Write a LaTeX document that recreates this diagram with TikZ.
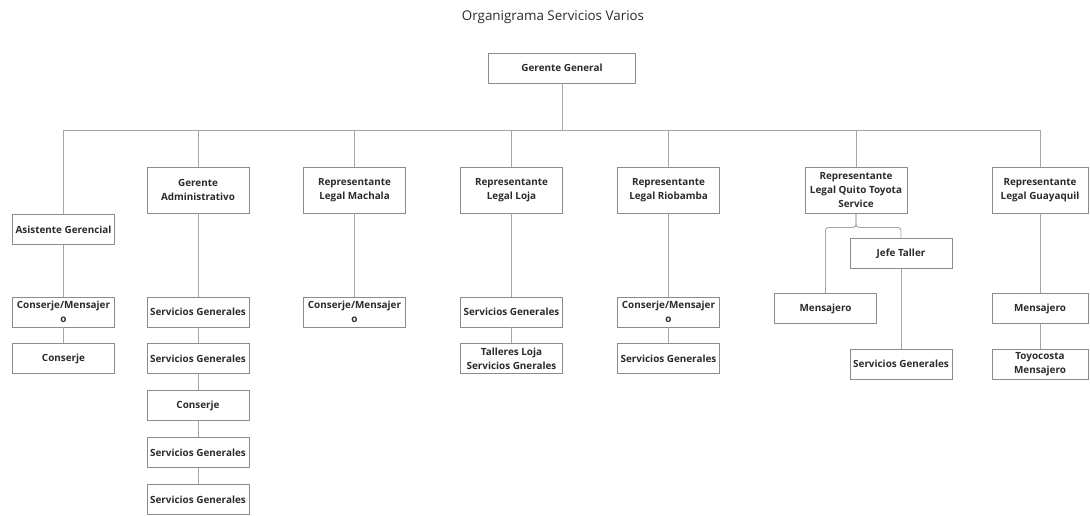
\documentclass[tikz,border=0pt]{standalone}
\usepackage{fontspec}
\setmainfont{Open Sans}
\usepackage{tikz}
\usetikzlibrary{positioning}

\definecolor{borde}{HTML}{8C8C8C}
\definecolor{linea}{HTML}{A6A6A6}
\definecolor{texto}{HTML}{2B2B2B}

\tikzset{
    puesto/.style={draw=borde, line width=0.9pt, fill=white, text=texto,
        minimum width=102pt, minimum height=30pt, inner sep=0pt, align=center,
        font=\bfseries\fontsize{9.9}{13.7}\selectfont},
    jefe/.style={puesto, minimum height=46pt},
    conector/.style={draw=linea, line width=0.9pt},
}

\begin{document}
\begin{tikzpicture}[x=1pt, y=-1pt]
    \useasboundingbox (0,0) rectangle (1090,516);
    \node[text=texto, font=\fontsize{13.4}{16}\selectfont] (titulo) at (553,17) {Organigrama Servicios Varios};

    \node[puesto, minimum width=147pt] (gg) at (562,68) {Gerente General};
    \coordinate (bus) at (562,130);

    % primer nivel
    \node[puesto] (ag) at (63.5,229.5) {Asistente Gerencial};
    \node[jefe] (ga) at (198,190) {Gerente\\Administrativo};
    \node[jefe] (rm) at (354.5,190) {Representante\\Legal Machala};
    \node[jefe] (rl) at (511.5,190) {Representante\\Legal Loja};
    \node[jefe] (rr) at (668.5,190) {Representante\\Legal Riobamba};
    \node[jefe] (rq) at (856,190) {Representante\\Legal Quito Toyota\\Service};
    \node[jefe, minimum width=96pt] (rg) at (1040,190) {Representante\\Legal Guayaquil};

    % segundo nivel
    \node[puesto] (ag1) at (63.5,312) {Conserje/Mensajer\\o};
    \node[puesto, below=16pt of ag1] (ag2) {Conserje};

    \node[puesto] (ga1) at (198,312) {Servicios Generales};
    \node[puesto, below=16pt of ga1] (ga2) {Servicios Generales};
    \node[puesto, below=16pt of ga2] (ga3) {Conserje};
    \node[puesto, below=16pt of ga3] (ga4) {Servicios Generales};
    \node[puesto, below=16pt of ga4] (ga5) {Servicios Generales};

    \node[puesto] (rm1) at (354.5,312) {Conserje/Mensajer\\o};

    \node[puesto] (rl1) at (511.5,312) {Servicios Generales};
    \node[puesto, below=16pt of rl1] (rl2) {Talleres Loja\\Servicios Gnerales};

    \node[puesto] (rr1) at (668.5,312) {Conserje/Mensajer\\o};
    \node[puesto, below=16pt of rr1] (rr2) {Servicios Generales};

    \node[puesto] (jt) at (901,253.5) {Jefe Taller};
    \node[puesto] (rq1) at (825.5,308.5) {Mensajero};
    \node[puesto] (jt1) at (901,364) {Servicios Generales};

    \node[puesto, minimum width=96pt] (rg1) at (1040,308.5) {Mensajero};
    \node[puesto, minimum width=96pt, below=25pt of rg1] (rg2) {Toyocosta\\Mensajero};

    % conectores
    \draw[conector] (gg) -- (bus);
    \foreach \n in {ag,ga,rm,rl,rr,rq,rg}
        \draw[conector] (bus) -| (\n.north);
    \foreach \a/\b in {ag/ag1, ag1/ag2, ga/ga1, ga1/ga2, ga2/ga3, ga3/ga4, ga4/ga5,
                       rm/rm1, rl/rl1, rl1/rl2, rr/rr1, rr1/rr2, jt/jt1, rg/rg1, rg1/rg2}
        \draw[conector] (\a) -- (\b);
    \draw[conector, rounded corners=3pt] (rq.south) -- ++(0,14) -| (rq1.north);
    \draw[conector, rounded corners=3pt] (rq.south) -- ++(0,14) -| (jt.north);
\end{tikzpicture}
\end{document}
